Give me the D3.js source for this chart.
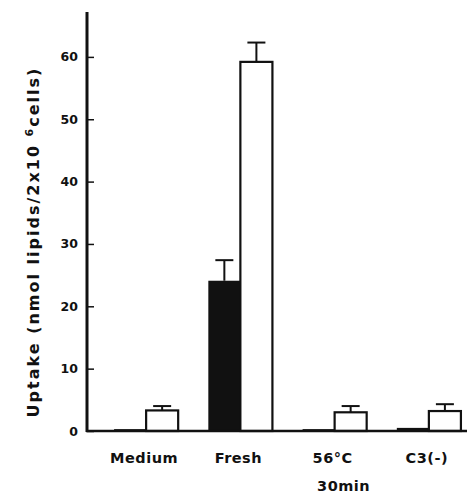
<!DOCTYPE html>
<html>
<head>
<meta charset="utf-8">
<script src="https://cdn.jsdelivr.net/npm/d3@7"></script>
<style>
  body { margin: 0; background: #fff; }
  text { font-family: "DejaVu Sans", sans-serif; font-weight: bold; fill: #111; }
</style>
</head>
<body>
<svg id="chart" width="467" height="496"></svg>
<script>
const categories = ["Medium", "Fresh", "56°C", "C3(-)"];
const darkValues = [0.3, 24.1, 0.3, 0.5];
const darkErrors = [0, 3.3, 0, 0];
const whiteValues = [3.3, 59.2, 3.0, 3.2];
const whiteErrors = [0.7, 3.1, 1.0, 1.1];
const yTicks = [0, 10, 20, 30, 40, 50, 60];

const svg = d3.select("#chart");

const x = d3.scaleBand()
  .domain(categories)
  .range([99, 476])
  .paddingInner(0.32)
  .paddingOuter(0.16);

const y = d3.scaleLinear()
  .domain([0, 67.2])
  .range([431, 12]);

const half = x.bandwidth() / 2;

// dark bars
svg.append("g")
  .selectAll("rect")
  .data(categories)
  .enter()
  .append("rect")
  .attr("x", d => x(d))
  .attr("y", (d, i) => y(darkValues[i]))
  .attr("width", half)
  .attr("height", (d, i) => y(0) - y(darkValues[i]))
  .attr("fill", "#111");

// white bars
svg.append("g")
  .selectAll("rect")
  .data(categories)
  .enter()
  .append("rect")
  .attr("x", d => x(d) + half)
  .attr("y", (d, i) => y(whiteValues[i]))
  .attr("width", half)
  .attr("height", (d, i) => y(0) - y(whiteValues[i]))
  .attr("fill", "#fff")
  .attr("stroke", "#111")
  .attr("stroke-width", 2.2);

// error bars
function errorBars(values, errors, offset) {
  const g = svg.append("g").attr("stroke", "#111").attr("stroke-width", 2);
  categories.forEach((c, i) => {
    if (!errors[i]) return;
    const cx = x(c) + offset + half / 2;
    g.append("line")
      .attr("x1", cx).attr("x2", cx)
      .attr("y1", y(values[i])).attr("y2", y(values[i] + errors[i]));
    g.append("line")
      .attr("x1", cx - 9).attr("x2", cx + 9)
      .attr("y1", y(values[i] + errors[i])).attr("y2", y(values[i] + errors[i]));
  });
}
errorBars(darkValues, darkErrors, 0);
errorBars(whiteValues, whiteErrors, half);

// y axis
const yAxis = d3.axisRight(y).tickValues(yTicks).tickSize(7).tickFormat("");
const ya = svg.append("g").attr("transform", "translate(87,0)").call(yAxis);
ya.select(".domain").remove();
ya.selectAll(".tick line").attr("stroke", "#111").attr("stroke-width", 1.5);

svg.append("line")
  .attr("x1", 87).attr("x2", 87)
  .attr("y1", y(67.2)).attr("y2", y(0) + 1)
  .attr("stroke", "#111").attr("stroke-width", 3);

svg.append("line")
  .attr("x1", 86).attr("x2", 467)
  .attr("y1", y(0)).attr("y2", y(0))
  .attr("stroke", "#111").attr("stroke-width", 2.5);

svg.append("g")
  .selectAll("text")
  .data(yTicks)
  .enter()
  .append("text")
  .attr("x", 78)
  .attr("y", d => y(d) + 4.5)
  .attr("text-anchor", "end")
  .attr("font-size", 12.5)
  .text(d => d);

// y label
const yl = svg.append("text")
  .attr("transform", "translate(39,242) rotate(-90)")
  .attr("text-anchor", "middle")
  .attr("font-size", 16)
  .attr("letter-spacing", 2);
yl.append("tspan").text("Uptake (nmol lipids/2x10 ");
yl.append("tspan").attr("dy", -6).attr("font-size", 11).text("6");
yl.append("tspan").attr("dy", 6).text("cells)");

// category labels
svg.append("g")
  .selectAll("text")
  .data(categories)
  .enter()
  .append("text")
  .attr("x", d => x(d) + x.bandwidth() / 2 - 2)
  .attr("y", 463)
  .attr("text-anchor", "middle")
  .attr("font-size", 14.5)
  .attr("letter-spacing", 0.5)
  .text(d => d);

svg.append("text")
  .attr("x", x("56°C") + x.bandwidth() / 2 + 9)
  .attr("y", 491)
  .attr("text-anchor", "middle")
  .attr("font-size", 14.5)
  .attr("letter-spacing", 0.5)
  .text("30min");
</script>
</body>
</html>
